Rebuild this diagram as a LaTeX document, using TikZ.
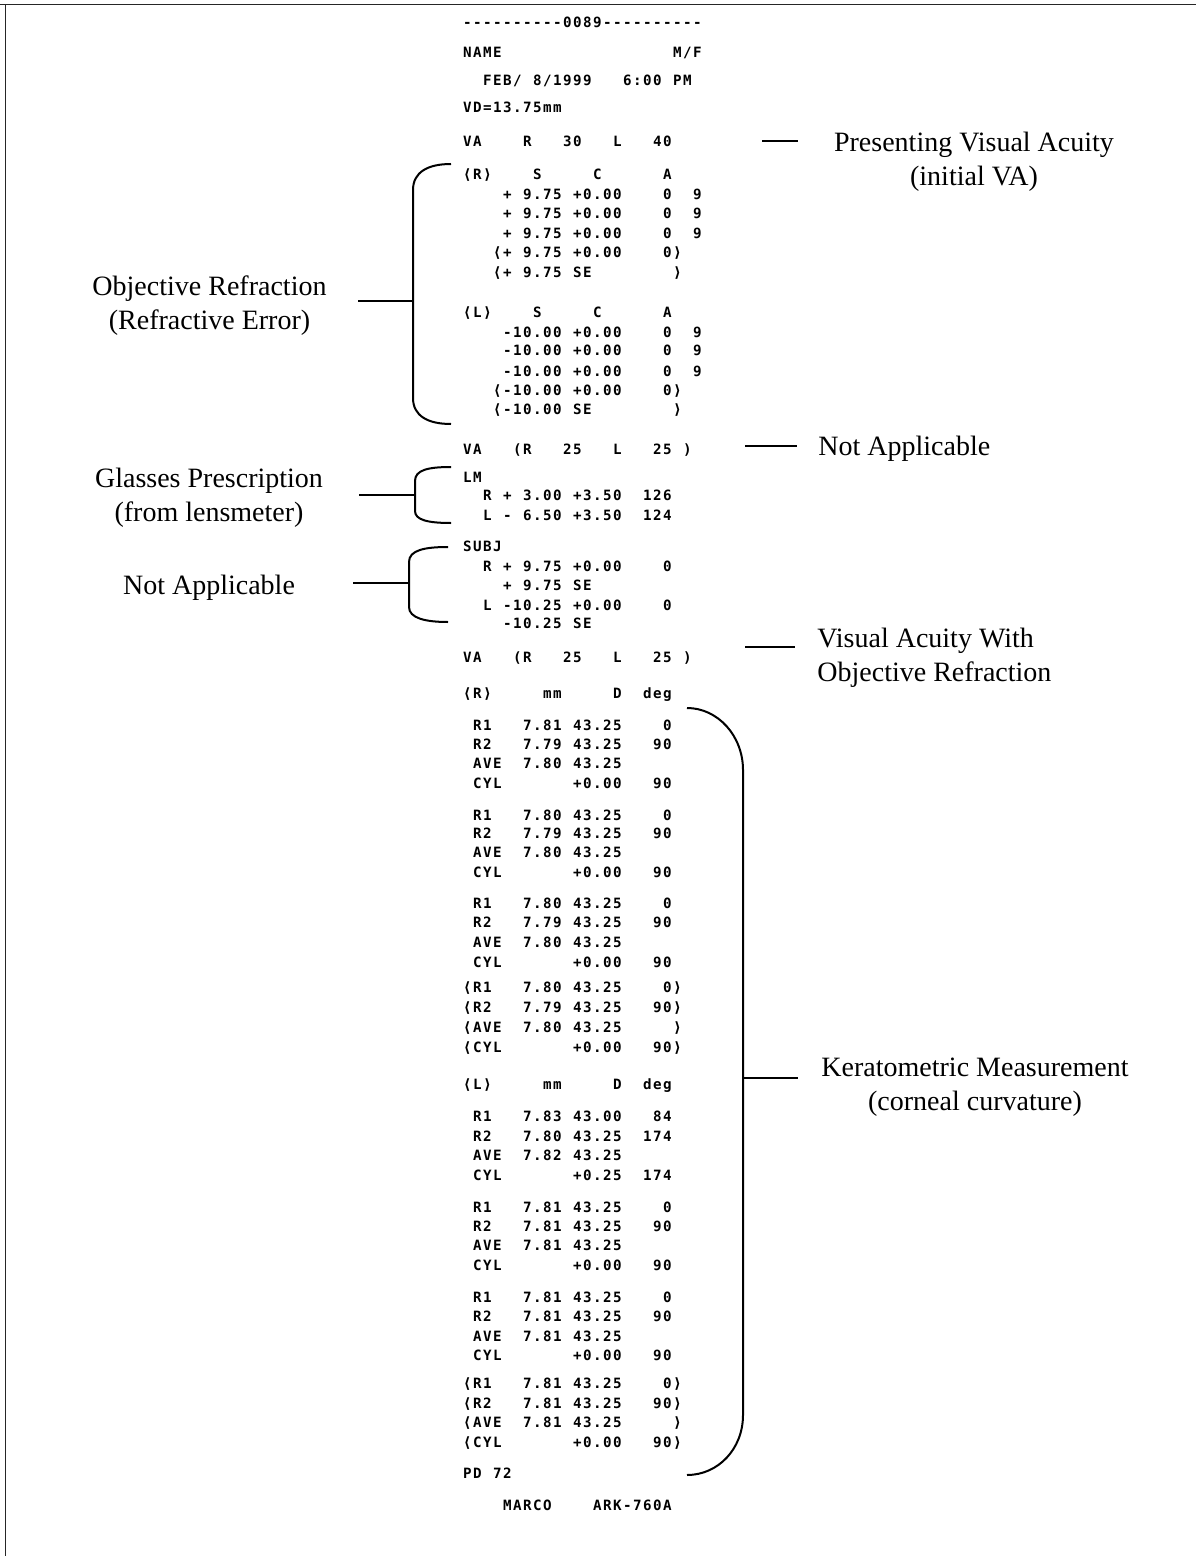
\documentclass[tikz,border=0pt]{standalone}
\usepackage{fontspec}
\newfontfamily\prtfont{DejaVu Sans Mono}
\newfontfamily\annfont{Liberation Serif}
\makeatletter
\def\mono#1{\mono@loop#1\relax}
\def\mono@loop#1{\ifx#1\relax\else\mono@cell{#1}\expandafter\mono@loop\fi}
\def\mono@cell#1{\makebox[5pt][c]{\ifx#1_\else#1\fi}}
\makeatother
\newcommand\prow[3]{\node[prt] (#1) at (462,#2+5) {\mono{#3}};}
\tikzset{
  prt/.style={anchor=base west, inner sep=0pt, font=\prtfont\bfseries\fontsize{7.1}{8}\selectfont},
  ann/.style={inner sep=0pt, font=\annfont\fontsize{14}{17}\selectfont, align=center},
  lnk/.style={line width=1pt},
  brk/.style={line width=1pt},
  frame/.style={line width=0.75pt, black!85},
}
\begin{document}
\begin{tikzpicture}[x=0.5pt,y=-0.5pt]
\useasboundingbox (0,0) rectangle (1196,1556);
% frame
\draw[frame] (0,4.5) -- (1196,4.5);
\draw[frame] (5.5,4.5) -- (5.5,1556);
% printout
\prow{p1}{23}{----------0089----------}
\prow{p2}{53}{NAME_________________M/F}
\prow{p3}{81}{__FEB/_8/1999___6:00_PM}
\prow{p4}{108}{VD=13.75mm}
\prow{p5}{142}{VA____R___30___L___40}
\prow{p6}{175}{⟨R⟩____S_____C______A}
\prow{p7}{195}{____+_9.75_+0.00____0__9}
\prow{p8}{214}{____+_9.75_+0.00____0__9}
\prow{p9}{234}{____+_9.75_+0.00____0__9}
\prow{p10}{253}{___⟨+_9.75_+0.00____0⟩}
\prow{p11}{273}{___⟨+_9.75_SE________⟩}
\prow{p12}{313}{⟨L⟩____S_____C______A}
\prow{p13}{332}{____-10.00_+0.00____0__9}
\prow{p14}{351}{____-10.00_+0.00____0__9}
\prow{p15}{371}{____-10.00_+0.00____0__9}
\prow{p16}{390}{___⟨-10.00_+0.00____0⟩}
\prow{p17}{409}{___⟨-10.00_SE________⟩}
\prow{p18}{449}{VA___(R___25___L___25_)}
\prow{p19}{477}{LM}
\prow{p20}{495}{__R_+_3.00_+3.50__126}
\prow{p21}{515}{__L_-_6.50_+3.50__124}
\prow{p22}{546}{SUBJ}
\prow{p23}{566}{__R_+_9.75_+0.00____0}
\prow{p24}{585}{____+_9.75_SE}
\prow{p25}{605}{__L_-10.25_+0.00____0}
\prow{p26}{623}{____-10.25_SE}
\prow{p27}{657}{VA___(R___25___L___25_)}
\prow{p28}{693}{⟨R⟩_____mm_____D__deg}
\prow{p29}{725}{_R1___7.81_43.25____0}
\prow{p30}{744}{_R2___7.79_43.25___90}
\prow{p31}{763}{_AVE__7.80_43.25}
\prow{p32}{783}{_CYL_______+0.00___90}
\prow{p33}{815}{_R1___7.80_43.25____0}
\prow{p34}{833}{_R2___7.79_43.25___90}
\prow{p35}{852}{_AVE__7.80_43.25}
\prow{p36}{872}{_CYL_______+0.00___90}
\prow{p37}{903}{_R1___7.80_43.25____0}
\prow{p38}{922}{_R2___7.79_43.25___90}
\prow{p39}{942}{_AVE__7.80_43.25}
\prow{p40}{962}{_CYL_______+0.00___90}
\prow{p41}{987}{⟨R1___7.80_43.25____0⟩}
\prow{p42}{1007}{⟨R2___7.79_43.25___90⟩}
\prow{p43}{1027}{⟨AVE__7.80_43.25_____⟩}
\prow{p44}{1047}{⟨CYL_______+0.00___90⟩}
\prow{p45}{1084}{⟨L⟩_____mm_____D__deg}
\prow{p46}{1116}{_R1___7.83_43.00___84}
\prow{p47}{1136}{_R2___7.80_43.25__174}
\prow{p48}{1155}{_AVE__7.82_43.25}
\prow{p49}{1175}{_CYL_______+0.25__174}
\prow{p50}{1207}{_R1___7.81_43.25____0}
\prow{p51}{1226}{_R2___7.81_43.25___90}
\prow{p52}{1245}{_AVE__7.81_43.25}
\prow{p53}{1265}{_CYL_______+0.00___90}
\prow{p54}{1297}{_R1___7.81_43.25____0}
\prow{p55}{1316}{_R2___7.81_43.25___90}
\prow{p56}{1336}{_AVE__7.81_43.25}
\prow{p57}{1355}{_CYL_______+0.00___90}
\prow{p58}{1383}{⟨R1___7.81_43.25____0⟩}
\prow{p59}{1403}{⟨R2___7.81_43.25___90⟩}
\prow{p60}{1422}{⟨AVE__7.81_43.25_____⟩}
\prow{p61}{1442}{⟨CYL_______+0.00___90⟩}
\prow{p62}{1473}{PD_72}
\prow{p63}{1505}{____MARCO____ARK-760A}
% annotations
\node[ann] (a1) at (974,162) {Presenting Visual Acuity\\(initial VA)};
\node[ann, anchor=base west] (a2) at (818,455) {Not Applicable};
\node[ann, align=left, anchor=west] (a3) at (817,658) {Visual Acuity With\\Objective Refraction};
\node[ann] (a4) at (975,1087) {Keratometric Measurement\\(corneal curvature)};
\node[ann] (a5) at (209.5,305.5) {Objective Refraction\\(Refractive Error)};
\node[ann] (a6) at (209,497.5) {Glasses Prescription\\(from lensmeter)};
\node[ann, anchor=base] (a7) at (209,594) {Not Applicable};
% brackets
\draw[brk] (451,164) .. controls (428,164) and (413,172) .. (413,190) -- (413,398) .. controls (413,416) and (428,424) .. (451,424);
\draw[brk] (451,467) .. controls (428,467) and (415,470) .. (415,481) -- (415,511) .. controls (415,520) and (428,523) .. (451,523);
\draw[brk] (448,547) .. controls (425,547) and (409,550) .. (409,562) -- (409,607) .. controls (409,618) and (425,622) .. (448,622);
\draw[brk] (687,708) .. controls (718,708) and (743,736) .. (743,770) -- (743,1415) .. controls (743,1449) and (718,1475) .. (687,1475);
% connector end points
\coordinate (l1a) at (358,301); \coordinate (l1b) at (413,301);
\coordinate (l2a) at (359,495); \coordinate (l2b) at (415,495);
\coordinate (l3a) at (353,583); \coordinate (l3b) at (409,583);
\coordinate (r1a) at (762,141); \coordinate (r1b) at (798,141);
\coordinate (r2a) at (745,446); \coordinate (r2b) at (797,446);
\coordinate (r3a) at (745,647); \coordinate (r3b) at (795,647);
\coordinate (r4a) at (743,1078); \coordinate (r4b) at (798,1078);
\draw[lnk] (l1a) -- (l1b);
\draw[lnk] (l2a) -- (l2b);
\draw[lnk] (l3a) -- (l3b);
\draw[lnk] (r1a) -- (r1b);
\draw[lnk] (r2a) -- (r2b);
\draw[lnk] (r3a) -- (r3b);
\draw[lnk] (r4a) -- (r4b);
\end{tikzpicture}
\end{document}
